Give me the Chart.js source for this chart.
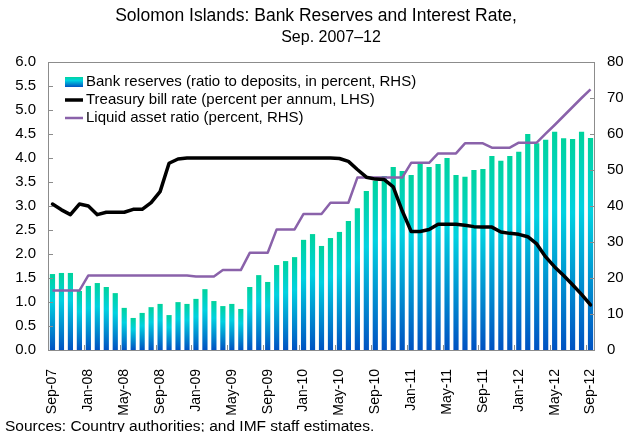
<!DOCTYPE html>
<html>
<head>
<meta charset="utf-8">
<title>Solomon Islands: Bank Reserves and Interest Rate</title>
<script src="https://cdn.jsdelivr.net/npm/chart.js@4.4.1/dist/chart.umd.min.js"></script>
<style>
  body { margin: 0; background: #fff; }
  #wrap { width: 629px; height: 432px; }
</style>
</head>
<body>
<div id="wrap"><canvas id="reserveChart" width="629" height="432"></canvas></div>
<script>
// Monthly, Sep-07 .. Sep-12
const months = [
  'Sep-07', 'Oct-07', 'Nov-07', 'Dec-07',
  'Jan-08', 'Feb-08', 'Mar-08', 'Apr-08', 'May-08', 'Jun-08', 'Jul-08', 'Aug-08', 'Sep-08', 'Oct-08', 'Nov-08', 'Dec-08',
  'Jan-09', 'Feb-09', 'Mar-09', 'Apr-09', 'May-09', 'Jun-09', 'Jul-09', 'Aug-09', 'Sep-09', 'Oct-09', 'Nov-09', 'Dec-09',
  'Jan-10', 'Feb-10', 'Mar-10', 'Apr-10', 'May-10', 'Jun-10', 'Jul-10', 'Aug-10', 'Sep-10', 'Oct-10', 'Nov-10', 'Dec-10',
  'Jan-11', 'Feb-11', 'Mar-11', 'Apr-11', 'May-11', 'Jun-11', 'Jul-11', 'Aug-11', 'Sep-11', 'Oct-11', 'Nov-11', 'Dec-11',
  'Jan-12', 'Feb-12', 'Mar-12', 'Apr-12', 'May-12', 'Jun-12', 'Jul-12', 'Aug-12', 'Sep-12'
];

// Bank reserves, ratio to deposits in percent (RHS)
const bankReserves = [
  21.1, 21.4, 21.4, 16.4,
  17.8, 18.6, 17.5, 15.8, 11.7, 8.9, 10.3, 11.9, 12.8, 9.7, 13.3, 12.8,
  14.2, 16.9, 13.6, 12.2, 12.8, 11.4, 17.5, 20.8, 18.9, 23.6, 24.7, 25.8,
  30.6, 32.2, 28.9, 31.1, 32.8, 35.8, 39.4, 44.2, 47.0, 48.3, 50.8, 49.7,
  48.6, 51.7, 50.8, 51.7, 53.3, 48.6, 48.1, 50.0, 50.3, 53.9, 52.6, 53.9,
  55.1, 60.0, 57.4, 58.4, 60.6, 58.8, 58.6, 60.6, 58.9
];

// Treasury bill rate, percent per annum (LHS)
const tbillRate = [
  3.04, 2.92, 2.82, 3.04,
  3.00, 2.82, 2.87, 2.87, 2.87, 2.93, 2.93, 3.07, 3.30, 3.89, 3.98, 4.00,
  4.00, 4.00, 4.00, 4.00, 4.00, 4.00, 4.00, 4.00, 4.00, 4.00, 4.00, 4.00,
  4.00, 4.00, 4.00, 4.00, 3.99, 3.93, 3.76, 3.60, 3.56, 3.55, 3.40, 2.90,
  2.47, 2.47, 2.51, 2.62, 2.62, 2.62, 2.60, 2.57, 2.56, 2.56, 2.46, 2.43,
  2.41, 2.36, 2.21, 1.94, 1.73, 1.55, 1.36, 1.16, 0.94
];

// Liquid asset ratio, percent (RHS)
const liquidRatio = [
  16.5, 16.5, 16.5, 16.5,
  20.7, 20.7, 20.7, 20.7, 20.7, 20.7, 20.7, 20.7, 20.7, 20.7, 20.7, 20.7,
  20.4, 20.4, 20.4, 22.2, 22.2, 22.2, 27.0, 27.0, 27.0, 33.5, 33.5, 33.5,
  37.8, 37.8, 37.8, 40.9, 40.9, 40.9, 47.9, 47.9, 47.9, 47.9, 47.9, 47.9,
  52.0, 52.0, 52.0, 54.6, 54.6, 54.6, 57.4, 57.4, 57.4, 56.2, 56.2, 56.2,
  57.6, 57.6, 57.6, 60.1, 62.5, 65.0, 67.5, 70.0, 72.4
];

const seriesNames = [
  'Bank reserves (ratio to deposits, in percent, RHS)',
  'Treasury bill rate (percent per annum, LHS)',
  'Liquid asset ratio (percent, RHS)'
];
const labelEvery = 4;

const FONT = 'Arial, "Liberation Sans", sans-serif';
const AXIS_GREY = '#8c8c8c';
const PURPLE = '#8a62aa';

function reserveGradient(ctx, top, bottom) {
  const g = ctx.createLinearGradient(0, top, 0, bottom);
  g.addColorStop(0, '#00d39c');
  g.addColorStop(0.35, '#00d2e0');
  g.addColorStop(1, '#0052c2');
  return g;
}

// Each bar gets its own green -> cyan -> blue fade
function barFill(c) {
  const chart = c.chart;
  const scale = chart.scales.yR;
  if (!chart.chartArea || c.type !== 'data' || !scale) return '#00c0d8';
  const top = scale.getPixelForValue(c.raw);
  const base = scale.getPixelForValue(0);
  if (!isFinite(top) || !isFinite(base) || base - top < 1) return '#0052c2';
  return reserveGradient(chart.ctx, top, base);
}

// Frame round the plot, inward tick marks, title, legend and source line
const decorations = {
  id: 'decorations',
  afterDatasetsDraw(chart) {
    const { ctx, chartArea: a, scales } = chart;
    ctx.save();
    ctx.strokeStyle = AXIS_GREY;
    ctx.lineWidth = 1;
    ctx.strokeRect(a.left + 0.5, a.top + 0.5, a.right - a.left - 1, a.bottom - a.top);

    ctx.beginPath();
    scales.yL.ticks.forEach(t => {
      const y = Math.round(scales.yL.getPixelForValue(t.value)) + 0.5;
      ctx.moveTo(a.left, y);
      ctx.lineTo(a.left + 5, y);
    });
    scales.yR.ticks.forEach(t => {
      const y = Math.round(scales.yR.getPixelForValue(t.value)) + 0.5;
      ctx.moveTo(a.right - 5, y);
      ctx.lineTo(a.right, y);
    });
    const x = scales.x;
    for (let i = labelEvery; i < months.length; i += labelEvery) {
      const px = Math.round((x.getPixelForValue(i - 1) + x.getPixelForValue(i)) / 2) + 0.5;
      ctx.moveTo(px, a.bottom);
      ctx.lineTo(px, a.bottom - 5);
    }
    ctx.stroke();
    ctx.restore();
  },
  afterDraw(chart) {
    const { ctx, chartArea: a } = chart;
    ctx.save();
    ctx.fillStyle = '#000';

    // titles
    ctx.textAlign = 'center';
    ctx.textBaseline = 'alphabetic';
    ctx.font = '17.5px ' + FONT;
    ctx.fillText('Solomon Islands: Bank Reserves and Interest Rate,', 316, 21);
    ctx.font = '16px ' + FONT;
    ctx.fillText('Sep. 2007\u201312', 331, 42);

    // legend
    const x0 = a.left + 17, x1 = a.left + 35, tx = a.left + 38;
    const rows = [a.top + 20, a.top + 38, a.top + 56];
    ctx.fillStyle = reserveGradient(ctx, rows[0] - 5, rows[0] + 5);
    ctx.fillRect(x0, rows[0] - 5, x1 - x0, 10);

    ctx.lineCap = 'butt';
    ctx.strokeStyle = '#000';
    ctx.lineWidth = 3.5;
    ctx.beginPath();
    ctx.moveTo(x0, rows[1]);
    ctx.lineTo(x1, rows[1]);
    ctx.stroke();

    ctx.strokeStyle = PURPLE;
    ctx.lineWidth = 2.5;
    ctx.beginPath();
    ctx.moveTo(x0, rows[2]);
    ctx.lineTo(x1, rows[2]);
    ctx.stroke();

    ctx.fillStyle = '#000';
    ctx.textAlign = 'left';
    ctx.textBaseline = 'middle';
    ctx.font = '15px ' + FONT;
    seriesNames.forEach((name, i) => ctx.fillText(name, tx, rows[i]));

    // source note
    ctx.textBaseline = 'alphabetic';
    ctx.font = '15.5px ' + FONT;
    ctx.fillText('Sources: Country authorities; and IMF staff estimates.', 5, 431);
    ctx.restore();
  }
};

Chart.defaults.font.family = FONT;
Chart.defaults.color = '#000';

new Chart(document.getElementById('reserveChart'), {
  type: 'bar',
  data: {
    labels: months,
    datasets: [
      {
        type: 'line',
        label: seriesNames[1],
        data: tbillRate,
        yAxisID: 'yL',
        borderColor: '#000',
        borderWidth: 3.5,
        borderJoinStyle: 'round',
        borderCapStyle: 'round',
        pointRadius: 0,
        tension: 0,
        order: 0
      },
      {
        type: 'line',
        label: seriesNames[2],
        data: liquidRatio,
        yAxisID: 'yR',
        borderColor: PURPLE,
        borderWidth: 2.5,
        borderJoinStyle: 'round',
        pointRadius: 0,
        tension: 0,
        order: 1
      },
      {
        type: 'bar',
        label: seriesNames[0],
        data: bankReserves,
        yAxisID: 'yR',
        backgroundColor: barFill,
        categoryPercentage: 1,
        barPercentage: 0.58,
        order: 2
      }
    ]
  },
  options: {
    responsive: false,
    animation: false,
    events: [],
    layout: { autoPadding: false, padding: { top: 62, bottom: 0, left: 0, right: 0 } },
    plugins: {
      legend: { display: false },
      tooltip: { enabled: false },
      title: { display: false }
    },
    scales: {
      x: {
        type: 'category',
        offset: true,
        grid: { display: false },
        border: { display: false },
        ticks: {
          autoSkip: false,
          maxRotation: 90,
          minRotation: 90,
          padding: 11,
          font: { size: 14 },
          callback: (v, i) => (i % labelEvery === 0 ? months[i] : null)
        },
        afterFit: s => { s.height = 82; }
      },
      yL: {
        position: 'left',
        min: 0,
        max: 6,
        grid: { display: false, drawTicks: false },
        border: { display: false },
        ticks: {
          stepSize: 0.5,
          padding: 12,
          font: { size: 15 },
          callback: v => v.toFixed(1)
        },
        afterFit: s => { s.width = 48; }
      },
      yR: {
        position: 'right',
        min: 0,
        max: 80,
        grid: { display: false, drawTicks: false },
        border: { display: false },
        ticks: {
          stepSize: 10,
          padding: 12,
          font: { size: 15 }
        },
        afterFit: s => { s.width = 34; }
      }
    }
  },
  plugins: [decorations]
});
</script>
</body>
</html>
